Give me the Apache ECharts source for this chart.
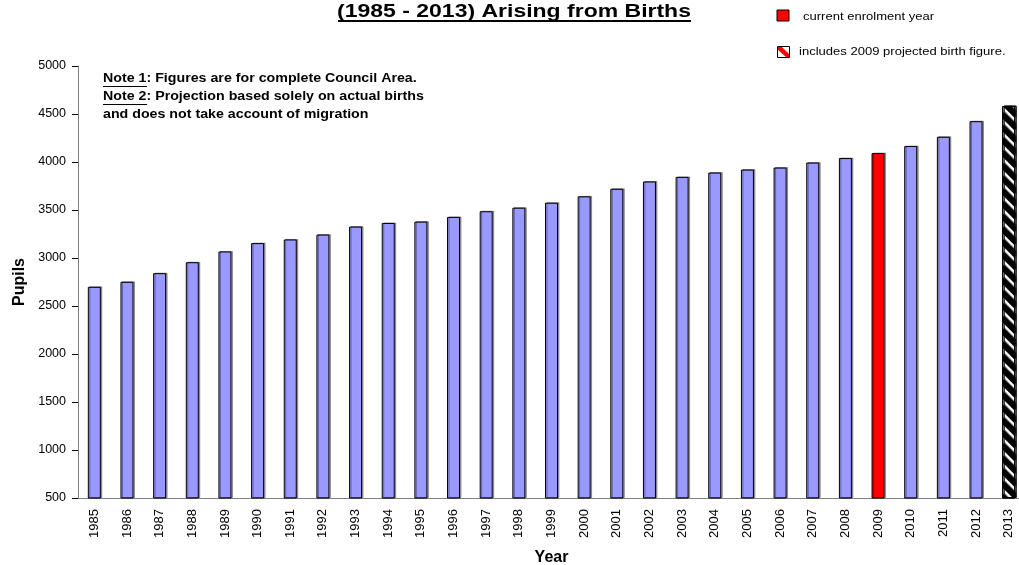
<!DOCTYPE html>
<html>
<head>
<meta charset="utf-8">
<script src="https://cdn.jsdelivr.net/npm/echarts@6/dist/echarts.min.js"></script>
<style>
  html, body { margin: 0; padding: 0; background: #fff; }
  #chart { width: 1019px; height: 565px; }
</style>
</head>
<body>
<div id="chart"></div>
<script>
const years = ['1985', '1986', '1987', '1988', '1989', '1990', '1991', '1992', '1993', '1994',
  '1995', '1996', '1997', '1998', '1999', '2000', '2001', '2002', '2003', '2004',
  '2005', '2006', '2007', '2008', '2009', '2010', '2011', '2012', '2013']
const pupils = [2700, 2752, 2842, 2956, 3068, 3155, 3193, 3244, 3327, 3365,
  3379, 3428, 3487, 3524, 3576, 3642, 3721, 3797, 3845, 3890,
  3921, 3942, 3994, 4041, 4093, 4166, 4263, 4425, 4583]
const currentYear = '2009'
const projectedYear = '2013'
const yTicks = [500, 5000, 500] // min, max, step

const font = 'Arial, "Liberation Sans", sans-serif'
const chart = echarts.init(document.getElementById('chart'))

// the source picture's text is a bit wider than plain Arial
const stretch = 1.185

const barData = pupils.map((v, i) => {
  if (years[i] == currentYear) {
    return { value: v, itemStyle: { color: '#ff0000' } }
  }
  if (years[i] == projectedYear) {
    return {
      value: v,
      itemStyle: {
        color: '#ffffff',
        decal: {
          symbol: 'rect',
          symbolSize: 1,
          dashArrayX: [[1, 0]],
          dashArrayY: [5, 4],
          rotation: Math.PI / 4,
          color: '#000000'
        }
      }
    }
  }
  return v
})

function note(text, x, y, size, bold) {
  return {
    type: 'text', x: x, y: y, scaleX: stretch,
    style: { text: text, font: (bold ? 'bold ' : '') + size + 'px ' + font, fill: '#000', textVerticalAlign: 'middle' }
  }
}

const option = {
  animation: false,
  textStyle: { fontFamily: font },
  grid: { left: 78, right: -6, top: 66, bottom: 67, outerBoundsMode: 'none', containLabel: false },
  xAxis: {
    type: 'category',
    data: years,
    name: 'Year',
    nameLocation: 'middle',
    nameGap: 52,
    nameTextStyle: { fontSize: 16, fontWeight: 'bold', color: '#000', fontFamily: font },
    axisLine: { lineStyle: { color: '#808080', width: 1 } },
    axisTick: { length: 5, lineStyle: { color: '#000' } },
    axisLabel: { rotate: 90, fontSize: 13, color: '#000', margin: 11, interval: 0, fontFamily: font }
  },
  yAxis: {
    type: 'value',
    min: yTicks[0],
    max: yTicks[1],
    interval: yTicks[2],
    name: 'Pupils',
    nameLocation: 'middle',
    nameGap: 50,
    nameTextStyle: { fontSize: 16, fontWeight: 'bold', color: '#000', fontFamily: font },
    axisLine: { show: true, lineStyle: { color: '#808080', width: 1 } },
    axisTick: { show: true, length: 6, lineStyle: { color: '#000' } },
    axisLabel: { fontSize: 12.5, color: '#000', margin: 12, fontFamily: font, formatter: v => String(v) },
    splitLine: { show: false }
  },
  series: [
    {
      type: 'bar',
      data: barData,
      barWidth: 13,
      itemStyle: {
        color: '#9999ff',
        borderColor: '#000',
        borderWidth: 1,
        shadowColor: 'rgba(0,0,0,0.35)',
        shadowOffsetX: 1.5,
        shadowOffsetY: -0.5
      }
    }
  ],
  graphic: [
    // title (first line is cut off in the source)
    {
      type: 'text', x: 514, y: 12, scaleX: 1.21,
      style: { text: '(1985 - 2013) Arising from Births', font: 'bold 19px ' + font, fill: '#000', textAlign: 'center', textVerticalAlign: 'middle' }
    },
    { type: 'rect', shape: { x: 338, y: 20, width: 353, height: 2 }, style: { fill: '#000' } },
    // legend
    { type: 'rect', shape: { x: 777, y: 10, width: 12, height: 11 }, style: { fill: '#ff0000', stroke: '#000', lineWidth: 1 } },
    note('current enrolment year', 803, 17, 11, false),
    { type: 'rect', shape: { x: 777.5, y: 46.5, width: 12, height: 11 }, style: { fill: '#fff', stroke: '#000', lineWidth: 1 } },
    { type: 'polygon', shape: { points: [[778, 47], [782, 47], [789, 54], [789, 57], [786, 57], [778, 50]] }, style: { fill: '#ff0000' } },
    note('includes 2009 projected birth figure.', 799, 52, 11, false),
    // notes
    note('Note 1: Figures are for complete Council Area.', 103, 79, 12, true),
    { type: 'rect', shape: { x: 103, y: 86, width: 44, height: 1 }, style: { fill: '#000' } },
    note('Note 2: Projection based solely on actual births', 103, 97, 12, true),
    { type: 'rect', shape: { x: 103, y: 104, width: 44, height: 1 }, style: { fill: '#000' } },
    note('and does not take account of migration', 103, 115, 12, true)
  ]
}

chart.setOption(option)
</script>
</body>
</html>
